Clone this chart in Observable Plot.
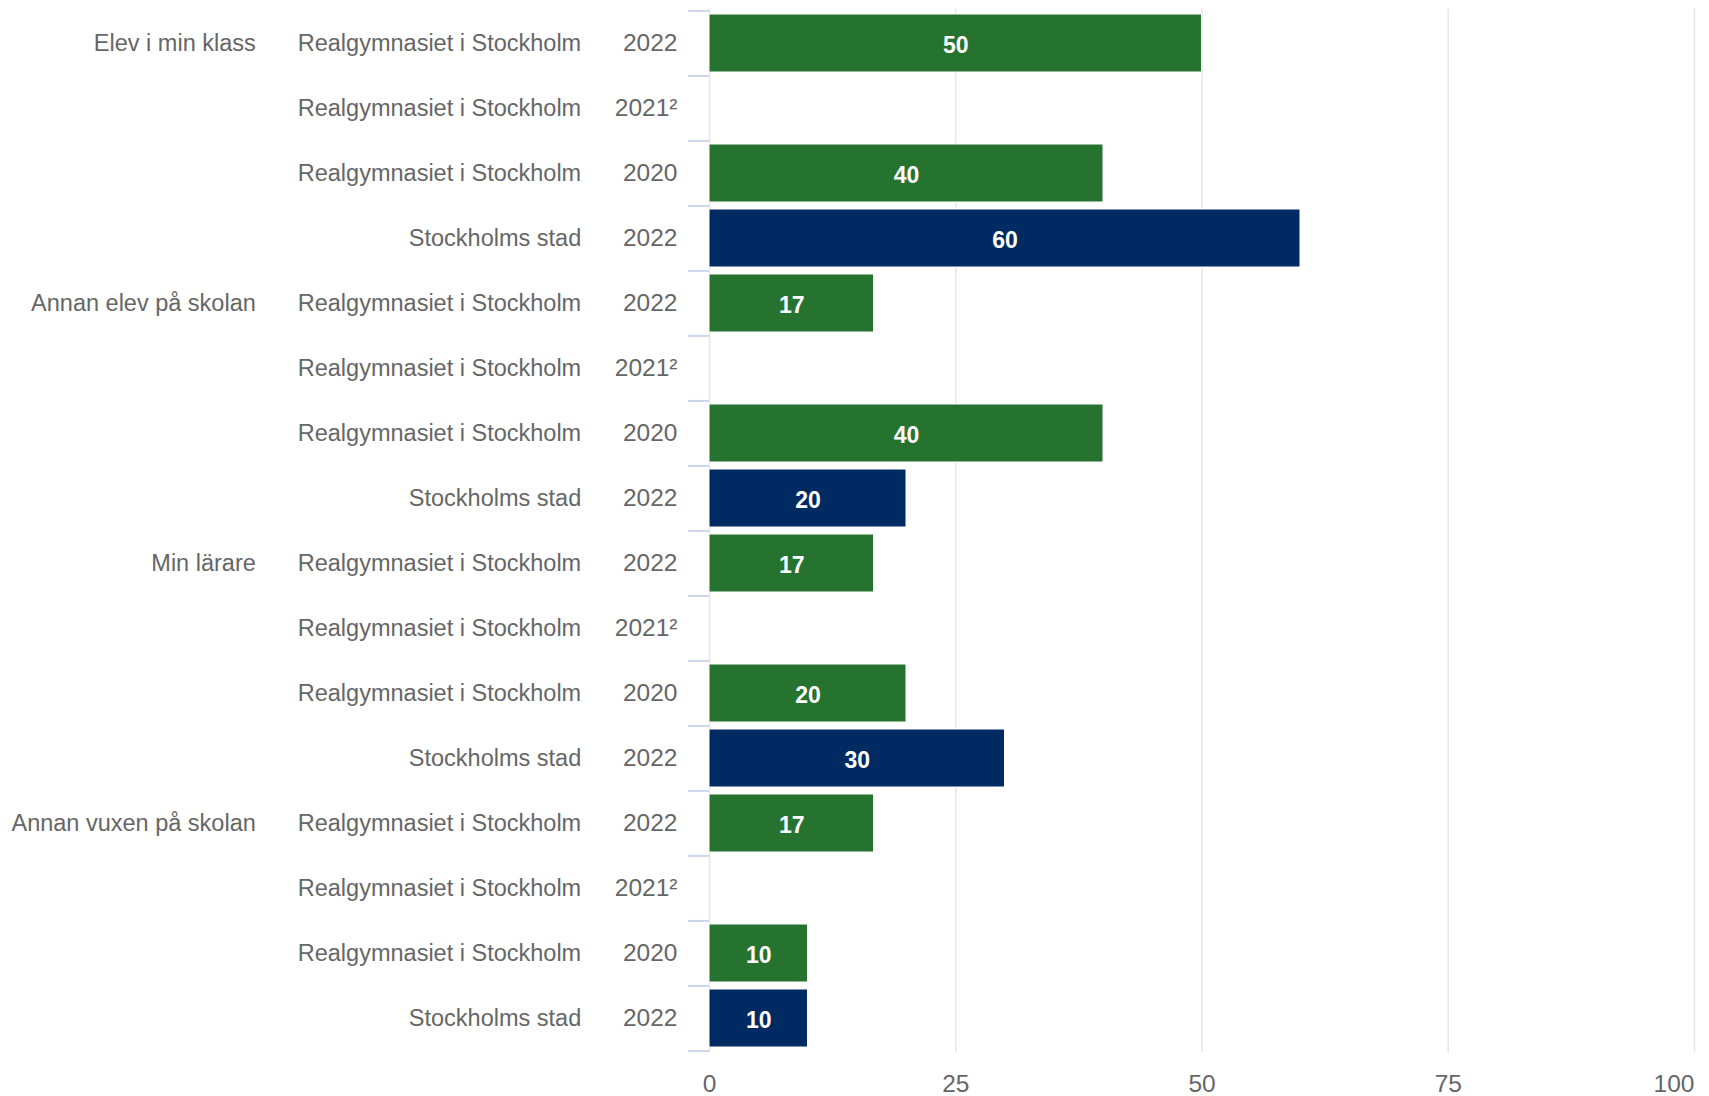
<!DOCTYPE html>
<html><head><meta charset="utf-8">
<script src="https://cdn.jsdelivr.net/npm/d3@7"></script>
<script src="https://cdn.jsdelivr.net/npm/@observablehq/plot@0.6"></script>
<style>html,body{margin:0;padding:0;background:#fff;overflow:hidden} svg{display:block}</style>
</head><body><div id="chart"></div>
<script>
const categories = ["Elev i min klass", "Annan elev på skolan", "Min lärare", "Annan vuxen på skolan"];
const groups = ["Realgymnasiet i Stockholm", "Realgymnasiet i Stockholm", "Realgymnasiet i Stockholm", "Stockholms stad"];
const years = ["2022", "2021²", "2020", "2022"];
const valuesElevKlass = [50, null, 40, 60];
const valuesAnnanElev = [16.7, null, 40, 20];
const valuesMinLarare = [16.7, null, 20, 30];
const valuesAnnanVuxen = [16.7, null, 10, 10];
const xTicks = [0, 25, 50, 75, 100];
const seriesColors = ["#267330", "#002b62"];

const allValues = [valuesElevKlass, valuesAnnanElev, valuesMinLarare, valuesAnnanVuxen];
const rows = [];
allValues.forEach((vals, c) => vals.forEach((v, j) => rows.push({
  id: String(c * 4 + j),
  category: j === 0 ? categories[c] : "",
  group: groups[j],
  year: years[j],
  value: v
})));
const ids = rows.map(d => d.id);
const bars = rows.filter(d => d.value != null);

const W = 1709, H = 1096, mL = 709, mR = 15, mT = 8.5, mB = 44;
const step = (H - mT - mB) / ids.length;
const fs = 23.5;

const chart = Plot.plot({
  width: W, height: H,
  marginLeft: mL, marginRight: mR, marginTop: mT, marginBottom: mB,
  style: {fontFamily: "'Liberation Sans', Arial, sans-serif", fontSize: fs + "px", color: "#666666", background: "#fff", overflow: "visible"},
  x: {domain: [0, 100], label: null},
  y: {domain: ids, paddingInner: 0.11, paddingOuter: 0.055, axis: null, label: null},
  color: {domain: [groups[0], groups[3]], range: seriesColors},
  marks: [
    Plot.gridX(xTicks, {stroke: "#e6e6e6", strokeOpacity: 1, strokeWidth: 1.5}),
    Plot.axisY(ids, {tickSize: 21, tickFormat: () => "", dy: -step / 2, stroke: "#ccd6eb", strokeOpacity: 1, strokeWidth: 2, label: null}),
    Plot.axisY([ids[ids.length - 1]], {tickSize: 21, tickFormat: () => "", dy: step / 2, stroke: "#ccd6eb", strokeOpacity: 1, strokeWidth: 2, label: null}),
    Plot.barX(bars, {x: "value", y: "id", fill: "group", stroke: "white", strokeWidth: 1}),
    Plot.text(bars, {x: d => d.value / 2, y: "id", text: d => d3.format(".0f")(d.value), fill: "white", fontWeight: "bold", fontSize: 23, dy: 2}),
    Plot.text(rows, {y: "id", text: "category", frameAnchor: "left", textAnchor: "end", dx: 255.3 - mL, fill: "#666666", fontSize: fs}),
    Plot.text(rows, {y: "id", text: "group", frameAnchor: "left", textAnchor: "end", dx: 580.7 - mL, fill: "#666666", fontSize: fs}),
    Plot.text(rows, {y: "id", text: "year", frameAnchor: "left", textAnchor: "end", dx: 677 - mL, fill: "#666666", fontSize: 24.5}),
    Plot.axisX(xTicks.slice(0, 4), {tickSize: 0, tickPadding: 22, fontSize: 24.5, fill: "#666666", label: null}),
    Plot.axisX(xTicks.slice(4), {tickSize: 0, tickPadding: 22, fontSize: 24.5, fill: "#666666", textAnchor: "end", dx: 0, label: null})
  ]
});
document.getElementById("chart").appendChild(chart);
</script>
</body></html>
